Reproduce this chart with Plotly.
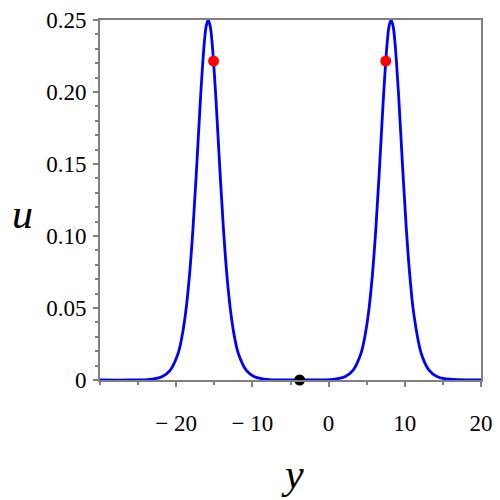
import plotly.graph_objects as go

# curve samples (y, u)
y_vals = [-30.0, -26.0, -23.8, -22.8, -21.8, -20.8, -19.8, -19.3, -18.8, -18.3, -17.8,
          -17.3, -16.8, -16.3, -16.05, -15.8, -15.55, -15.3, -14.8, -14.3, -13.8, -13.3,
          -12.8, -12.3, -11.8, -10.8, -9.8, -8.8, -7.8, -3.8,
          0.2, 1.2, 2.2, 3.2, 4.2, 4.7, 5.2, 5.7, 6.2, 6.7, 7.2, 7.7, 7.95, 8.2, 8.45,
          8.7, 9.2, 9.7, 10.2, 10.7, 11.2, 12.2, 13.2, 14.2, 15.2, 20.0]
u_vals = [0.0, 0.0, 0.0003, 0.0009, 0.0025, 0.0067, 0.0177, 0.0285, 0.0452, 0.0701, 0.105,
          0.149, 0.1966, 0.235, 0.2461, 0.25, 0.2461, 0.235, 0.1966, 0.149, 0.105, 0.0701,
          0.0452, 0.0285, 0.0177, 0.0067, 0.0025, 0.0009, 0.0003, 0.0,
          0.0003, 0.0009, 0.0025, 0.0067, 0.0177, 0.0285, 0.0452, 0.0701, 0.105, 0.149,
          0.1966, 0.235, 0.2461, 0.25, 0.2461, 0.235, 0.1966, 0.149, 0.105, 0.0701,
          0.0452, 0.0177, 0.0067, 0.0025, 0.0009, 0.0]

red_y = [-15.1, 7.5]
red_u = [0.2215, 0.2215]
black_y = [-3.8]
black_u = [0.0]

x_ticks = [-20, -10, 0, 10, 20]
x_labels = ["\u2212 20", "\u2212 10", "0", "10", "20"]
u_ticks = [0, 0.05, 0.10, 0.15, 0.20, 0.25]
u_labels = ["0", "0.05", "0.10", "0.15", "0.20", "0.25"]

fig = go.Figure()
fig.add_trace(go.Scatter(x=y_vals, y=u_vals, mode="lines",
                         line=dict(color="#0000ff", width=2.8, shape="spline", smoothing=1.0),
                         hoverinfo="skip"))
fig.add_trace(go.Scatter(x=red_y, y=red_u, mode="markers",
                         marker=dict(color="#ff0000", size=11)))
fig.add_trace(go.Scatter(x=black_y, y=black_u, mode="markers",
                         marker=dict(color="#000000", size=11), cliponaxis=False))

axis_common = dict(showgrid=False, zeroline=False, showline=True, linecolor="#808080",
                   linewidth=2, mirror=True, ticks="outside", tickcolor="#808080",
                   tickwidth=1.5, ticklen=5, automargin=False,
                   tickfont=dict(family="Liberation Serif", size=23, color="#000000"))

fig.update_xaxes(range=[-30, 20], tickvals=x_ticks, ticktext=x_labels,
                 ticklabelstandoff=16,
                 minor=dict(dtick=5, tick0=0, ticks="outside", ticklen=3,
                            tickcolor="#808080", tickwidth=1.5),
                 **axis_common)
fig.update_yaxes(range=[0, 0.25], tickvals=u_ticks, ticktext=u_labels,
                 ticklabelstandoff=2,
                 minor=dict(dtick=0.01, tick0=0, ticks="outside", ticklen=3,
                            tickcolor="#808080", tickwidth=1.5),
                 **axis_common)

fig.add_annotation(text="<i>u</i>", x=22, y=214, xref="paper", yref="paper",
                   showarrow=False, font=dict(family="Liberation Serif", size=42, color="#000000"))
fig.add_annotation(text="<i>y</i>", x=292, y=474, xref="paper", yref="paper",
                   showarrow=False, font=dict(family="Liberation Serif", size=42, color="#000000"))

fig.update_layout(width=500, height=500, margin=dict(l=100, r=19, t=20, b=120),
                  plot_bgcolor="white", paper_bgcolor="white", showlegend=False)

# convert pixel positions for annotations to paper coords
W, H = 500, 500
l, r, t, b = 100, 19, 20, 120
pw, ph = W - l - r, H - t - b
for ann in fig.layout.annotations:
    px, py = ann.x, ann.y
    ann.x = (px - l) / pw
    ann.y = (H - b - py) / ph
    ann.xanchor = "center"
    ann.yanchor = "middle"

fig.write_html("out.html", config={"displayModeBar": False},
               post_script="document.body.style.margin='0';")
